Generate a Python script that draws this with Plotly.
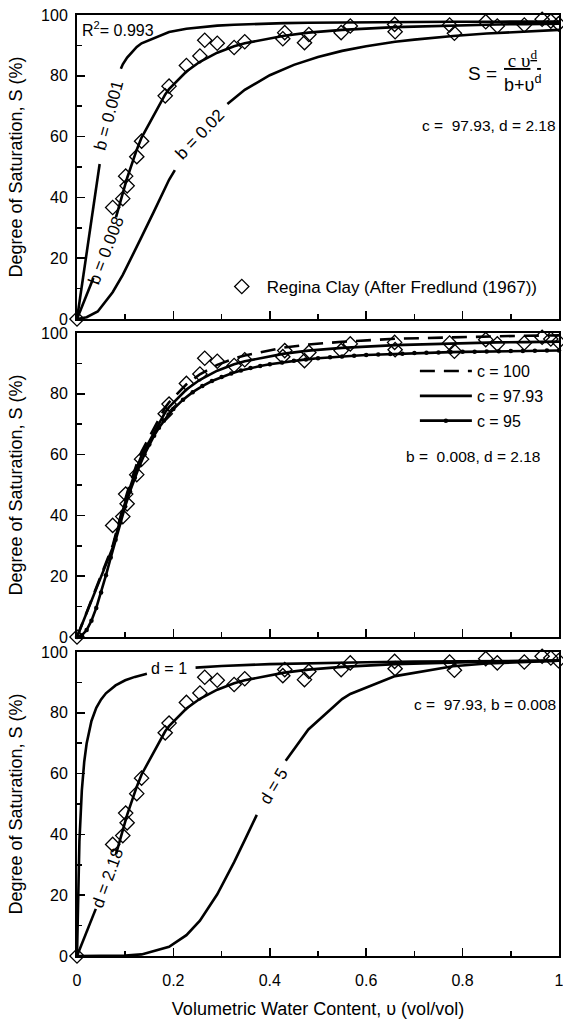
import plotly.graph_objects as go

# ---------------- data ----------------
v_data = [0.0, 0.074, 0.095, 0.101, 0.104, 0.124, 0.134, 0.183, 0.191, 0.227, 0.255, 0.265,
          0.291, 0.326, 0.348, 0.427, 0.431, 0.472, 0.481, 0.548, 0.567, 0.659, 0.660, 0.773,
          0.783, 0.848, 0.872, 0.928, 0.965, 0.983, 0.999]
S_data = [0.0, 36.7, 39.6, 47.0, 43.8, 53.4, 58.5, 73.4, 76.6, 83.4, 86.5, 91.7,
          90.7, 89.3, 91.2, 92.2, 94.2, 90.9, 93.6, 94.2, 96.4, 96.9, 94.5, 96.7,
          94.0, 97.8, 96.4, 96.7, 98.6, 98.0, 97.1]

# fitted curve c=97.93, b=0.008, d=2.18 (full)
base_v = [0, 0.074, 0.095, 0.104, 0.124, 0.134, 0.183, 0.191, 0.227, 0.255, 0.291, 0.326,
          0.348, 0.43, 0.48, 0.55, 0.66, 0.78, 0.87, 0.93, 1.0]
base_S = [0, 29.4, 41.6, 46.4, 55.7, 59.7, 73.9, 75.6, 81.4, 84.6, 87.6, 89.7,
          90.7, 93.2, 94.2, 95.1, 96.0, 96.6, 96.9, 97.0, 97.15]
# same curve, broken around its labels
base_lo_v_p1 = [0, 0.034]
base_lo_S_p1 = [0, 13.5]
base_lo_v_p3 = [0, 0.039]
base_lo_S_p3 = [0, 15.5]
base_hi_v = [0.081, 0.095, 0.104, 0.124, 0.134, 0.183, 0.191, 0.227, 0.255, 0.291, 0.326,
             0.348, 0.43, 0.48, 0.55, 0.66, 0.78, 0.87, 0.93, 1.0]
base_hi_S = [33.5, 41.6, 46.4, 55.7, 59.7, 73.9, 75.6, 81.4, 84.6, 87.6, 89.7,
             90.7, 93.2, 94.2, 95.1, 96.0, 96.6, 96.9, 97.0, 97.15]

# b = 0.001
b001_lo_v = [0, 0.047]
b001_lo_S = [0, 51.0]
b001_hi_v = [0.091, 0.095, 0.104, 0.124, 0.134, 0.183, 0.191, 0.227, 0.255, 0.291, 0.326,
             0.348, 0.43, 0.48, 0.55, 0.66, 0.78, 0.87, 0.93, 1.0]
b001_hi_S = [82.3, 83.8, 86.0, 89.5, 90.7, 94.1, 94.4, 95.5, 96.0, 96.5, 96.8,
             96.96, 97.32, 97.45, 97.57, 97.69, 97.76, 97.80, 97.82, 97.83]

# b = 0.02
b002_lo_v = [0, 0.02, 0.043, 0.074, 0.095, 0.104, 0.124, 0.134, 0.160, 0.183, 0.191, 0.203]
b002_lo_S = [0, 0.6, 2.5, 8.8, 14.5, 17.3, 23.5, 27.0, 35.5, 43.0, 45.8, 49.0]
b002_hi_v = [0.312, 0.348, 0.40, 0.45, 0.50, 0.55, 0.60, 0.66, 0.70, 0.78, 0.85, 0.93, 1.0]
b002_hi_S = [70.7, 75.4, 80.2, 83.6, 86.2, 88.2, 89.7, 91.2, 91.9, 93.1, 93.9, 94.6, 95.1]

# c = 100 (dashed)
c100_v = [0, 0.074, 0.095, 0.104, 0.124, 0.134, 0.183, 0.191, 0.227, 0.255, 0.291, 0.326,
          0.348, 0.43, 0.48, 0.55, 0.66, 0.78, 0.87, 0.93, 1.0]
c100_S = [0, 30.0, 42.5, 47.4, 56.9, 61.0, 75.5, 77.2, 83.1, 86.4, 89.5, 91.6,
          92.6, 95.2, 96.2, 97.1, 98.1, 98.6, 98.9, 99.1, 99.2]

# c = 95 (line with dots)
c95_v = [0, 0.01, 0.02, 0.03, 0.04, 0.05, 0.06, 0.07, 0.08, 0.09, 0.10, 0.11, 0.12, 0.13,
         0.14, 0.15, 0.16, 0.17, 0.18, 0.19, 0.20, 0.22, 0.24, 0.26, 0.28, 0.30, 0.32, 0.34,
         0.36, 0.38, 0.40, 0.425, 0.45, 0.475, 0.50, 0.525, 0.55, 0.575, 0.60, 0.625, 0.65,
         0.675, 0.70, 0.725, 0.75, 0.775, 0.80, 0.825, 0.85, 0.875, 0.90, 0.925, 0.95, 0.975, 1.0]
c95_S = [0, 0.51, 2.29, 5.36, 9.57, 14.65, 20.27, 26.13, 31.99, 37.65, 42.96, 47.89, 52.38, 56.44,
         60.07, 63.32, 66.22, 68.80, 71.10, 73.14, 74.97, 78.06, 80.54, 82.54, 84.19, 85.55, 86.69, 87.64,
         88.44, 89.12, 89.71, 90.3, 90.86, 91.3, 91.67, 92.0, 92.28, 92.5, 92.74, 92.9, 93.10,
         93.2, 93.37, 93.5, 93.59, 93.7, 93.78, 93.86, 93.93, 94.0, 94.05, 94.1, 94.16, 94.2, 94.24]

# d = 1
d1_lo_v = [0, 0.005, 0.01, 0.015, 0.02, 0.03, 0.04, 0.05, 0.06, 0.08, 0.10, 0.12, 0.145]
d1_lo_S = [0, 37.7, 54.4, 63.9, 69.9, 77.3, 81.6, 84.4, 86.4, 89.0, 90.7, 91.8, 92.8]
d1_hi_v = [0.246, 0.3, 0.4, 0.5, 0.6, 0.7, 0.8, 0.9, 1.0]
d1_hi_S = [94.85, 95.39, 96.01, 96.39, 96.64, 96.82, 96.96, 97.07, 97.15]

# d = 5
d5_lo_v = [0, 0.1, 0.134, 0.183, 0.191, 0.227, 0.255, 0.291, 0.326, 0.348, 0.373]
d5_lo_S = [0, 0.12, 0.53, 2.45, 3.01, 6.86, 11.6, 20.3, 30.9, 38.1, 46.4]
d5_hi_v = [0.433, 0.48, 0.55, 0.567, 0.66, 0.78, 0.85, 0.93, 1.0]
d5_hi_S = [64.2, 74.5, 84.5, 86.2, 92.05, 95.29, 96.2, 96.82, 97.15]

x_ticks = [0, 0.2, 0.4, 0.6, 0.8, 1.0]
x_labels = ["0", "0.2", "0.4", "0.6", "0.8", "1"]
y_ticks = [0, 20, 40, 60, 80, 100]

FONT = "Liberation Sans, Arial, sans-serif"
SERIF = "Liberation Serif, Times New Roman, serif"
LW = 2.6

fig = go.Figure()


def line(x, y, ax, dash="solid", name=None, legend=None, show=False, mode="lines",
         marker=None, group=None):
    fig.add_trace(go.Scatter(
        x=x, y=y, xaxis="x" + ax, yaxis="y" + ax, mode=mode,
        line=dict(color="black", width=LW, dash=dash), marker=marker,
        name=name, showlegend=show, legend=legend, legendgroup=group,
        cliponaxis=False, hoverinfo="skip"))


def diamonds(ax, show=False):
    fig.add_trace(go.Scatter(
        x=v_data, y=S_data, xaxis="x" + ax, yaxis="y" + ax, mode="markers",
        marker=dict(symbol="diamond-open", size=11, color="black", line=dict(width=1.3)),
        name="Regina Clay (After Fredlund (1967))", showlegend=show, legend="legend",
        cliponaxis=False, hoverinfo="skip"))


# panel 1 (axis suffix "")
line(b001_lo_v, b001_lo_S, "")
line(b001_hi_v, b001_hi_S, "")
line(base_lo_v_p1, base_lo_S_p1, "")
line(base_hi_v, base_hi_S, "")
line(b002_lo_v, b002_lo_S, "")
line(b002_hi_v, b002_hi_S, "")
diamonds("", show=True)

# panel 2
line(c100_v, c100_S, "2", dash="15px,9px", name="c = 100", legend="legend2", show=True, group="a")
line(base_v, base_S, "2", name="c = 97.93", legend="legend2", show=True, group="b")
line(c95_v, c95_S, "2", mode="lines+markers", marker=dict(size=4.5, color="black"),
     name="c = 95", legend="legend2", show=True, group="c")
diamonds("2")

# panel 3
line(d1_lo_v, d1_lo_S, "3")
line(d1_hi_v, d1_hi_S, "3")
line(base_lo_v_p3, base_lo_S_p3, "3")
line(base_hi_v, base_hi_S, "3")
line(d5_lo_v, d5_lo_S, "3")
line(d5_hi_v, d5_hi_S, "3")
diamonds("3")

# ---------------- axes ----------------
domains = {"": [0.6769, 1.0], "2": [0.3390, 0.6621], "3": [0.0, 0.3231]}
axis_common = dict(showline=True, mirror=True, linewidth=2, linecolor="black",
                   showgrid=False, zeroline=False, ticks="inside", tickwidth=1.5,
                   ticklen=8, tickcolor="black", automargin=False,
                   ticklabeloverflow="allow",
                   tickfont=dict(family=FONT, size=16, color="black"))
layout_axes = {}
for ax in ["", "2", "3"]:
    xa = dict(axis_common, range=[0, 1], tickvals=x_ticks, ticktext=x_labels,
              minor=dict(dtick=0.1, tick0=0, ticks="inside", ticklen=5, tickwidth=1.5, tickcolor="black"),
              anchor="y" + ax, domain=[0, 1], showticklabels=(ax == "3"), ticklabelstandoff=9)
    if ax == "3":
        xa["title"] = dict(text="Volumetric Water Content, υ (vol/vol)",
                           font=dict(family=FONT, size=18, color="black"), standoff=14)
    ya = dict(axis_common, range=[0, 100], tickvals=y_ticks,
              minor=dict(dtick=10, tick0=0, ticks="inside", ticklen=5, tickwidth=1.5, tickcolor="black"),
              anchor="x" + ax, domain=domains[ax], ticklabelstandoff=4,
              title=dict(text="Degree of Saturation, S (%)",
                         font=dict(family=FONT, size=18, color="black"), standoff=14))
    layout_axes["xaxis" + ax] = xa
    layout_axes["yaxis" + ax] = ya


def note(text, x, y, ax, angle=0, xanchor="center", size=15.5, family=FONT):
    return dict(text=text, x=x, y=y, xref="x" + ax, yref="y" + ax, showarrow=False,
                textangle=angle, xanchor=xanchor, yanchor="middle",
                font=dict(family=family, size=size, color="black"))


annotations = [
    note("R<sup>2</sup>= 0.993", 0.006, 95.3, "", xanchor="left", size=16),
    note("S =", 0.842, 80.6, "", size=19),
    note("<u>\u2009c υ<sup>d</sup>\u2009</u>", 0.924, 85.6, "", size=19, family=SERIF),
    note("b+υ<sup>d</sup>", 0.924, 77.6, "", size=18),
    note("c =  97.93, d = 2.18", 0.997, 63.5, "", xanchor="right"),
    note("b = 0.001", 0.067, 66.8, "", angle=-75, size=17),
    note("b = 0.008", 0.061, 22.4, "", angle=-69, size=17),
    note("b = 0.02", 0.255, 60.7, "", angle=-46, size=17),
    note("b =  0.008, d = 2.18", 0.965, 59.3, "2", xanchor="right"),
    note("c =  97.93, b = 0.008", 0.997, 82.6, "3", xanchor="right"),
    note("d = 1", 0.149, 94.7, "3", xanchor="left", size=16),
    note("d = 2.18", 0.0635, 25.5, "3", angle=-70, size=17),
    note("d = 5", 0.408, 55.7, "3", angle=-59, size=17),
]

fig.update_layout(
    width=563, height=1020, autosize=False,
    margin=dict(l=77, r=4, t=15, b=64),
    plot_bgcolor="white", paper_bgcolor="white",
    font=dict(family=FONT, size=15, color="black"),
    annotations=annotations,
    hovermode=False,
    legend=dict(x=0.29, y=0.711, xanchor="left", yanchor="middle", bgcolor="rgba(0,0,0,0)",
                font=dict(family=FONT, size=17, color="black"), itemwidth=40),
    legend2=dict(x=0.701, y=0.6396, xanchor="left", yanchor="top", bgcolor="rgba(0,0,0,0)",
                 font=dict(family=FONT, size=16, color="black"), traceorder="grouped",
                 tracegroupgap=1, itemwidth=52),
    **layout_axes,
)

fig.write_html(
    "out.html",
    config={"displayModeBar": False, "staticPlot": True},
    post_script="document.body.style.margin='0';document.body.style.overflow='hidden';",
)
